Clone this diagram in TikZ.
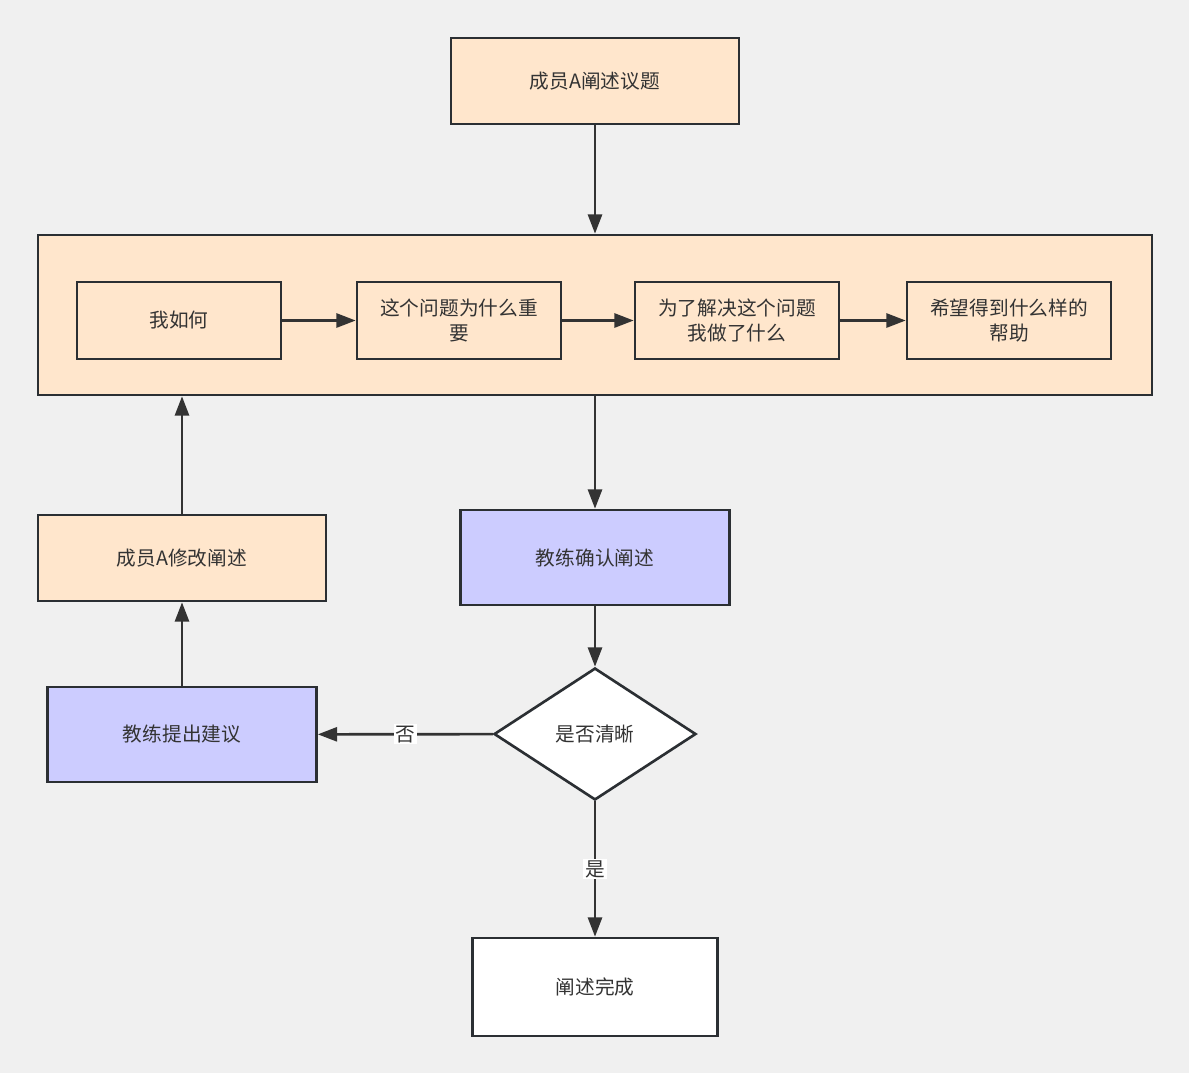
\documentclass[tikz,border=0pt]{standalone}
\usepackage{fontspec}
\setmainfont{Noto Sans CJK SC}
\usepackage{tikz}
\usetikzlibrary{arrows.meta, positioning, shapes.geometric, calc}
\definecolor{bgcol}{HTML}{F0F0F0}
\definecolor{peach}{HTML}{FFE6CC}
\definecolor{lav}{HTML}{CCCCFF}
\definecolor{edge}{HTML}{2B2F33}
\definecolor{txt}{HTML}{333333}

\tikzset{
  box/.style={rectangle, draw=edge, line width=1.5pt, fill=peach, align=center,
    font=\fontsize{11.2}{14.2}\selectfont, text=txt, inner sep=0pt},
  coach/.style={box, fill=lav},
  decision/.style={diamond, draw=edge, line width=1.5pt, fill=white,
    font=\fontsize{11.2}{14.2}\selectfont, text=txt, inner sep=0pt, aspect=1.53},
  arr/.style={draw=txt, line width=1.5pt, -{Triangle[length=11pt, width=8pt]}},
  lbl/.style={fill=white, inner sep=1pt, font=\fontsize{11.2}{13}\selectfont, text=txt}
}

\begin{document}
\begin{tikzpicture}[x=0.02cm, y=-0.02cm]
  \fill[bgcol] (0,0) rectangle (1189,1073);
  \useasboundingbox (0,0) rectangle (1189,1073);

  % Top issue
  \node[box, minimum width=5.76cm, minimum height=1.72cm] (issue) at (595,81) {成员A阐述议题};

  % Container with four steps
  \node[box, minimum width=22.28cm, minimum height=3.2cm] (frame) at (595,315) {};
  \node[box, minimum width=4.08cm, minimum height=1.54cm] (how) at (179,320.5) {我如何};
  \node[box, minimum width=4.08cm, minimum height=1.54cm] (why) at (459,320.5) {这个问题为什么重\\要};
  \node[box, minimum width=4.08cm, minimum height=1.54cm] (did) at (737,320.5) {为了解决这个问题\\我做了什么};
  \node[box, minimum width=4.08cm, minimum height=1.54cm] (help) at (1009,320.5) {希望得到什么样的\\帮助};

  % Coach loop
  \node[box, minimum width=5.76cm, minimum height=1.72cm] (revise) at (182,558) {成员A修改阐述};
  \node[coach, minimum width=5.38cm, minimum height=1.9cm] (confirm) at (595,557.5) {教练确认阐述};
  \node[decision, minimum width=4.04cm, minimum height=2.64cm] (clear) at (595,734) {是否清晰};
  \node[coach, minimum width=5.38cm, minimum height=1.9cm] (advice) at (182,734.5) {教练提出建议};
  \node[box, fill=white, minimum width=4.9cm, minimum height=1.96cm] (done) at (595,987) {阐述完成};

  % Edges
  \draw[arr] (issue) -- (frame);
  \draw[arr] (how) -- (why);
  \draw[arr] (why) -- (did);
  \draw[arr] (did) -- (help);
  \draw[arr] (frame.south -| confirm) -- (confirm);
  \draw[arr] (confirm) -- (clear);
  \draw[arr] (clear) -- (advice) node[lbl, pos=0.5] {否};
  \draw[arr] (clear) -- (done) node[lbl, pos=0.5] {是};
  \draw[arr] (advice.north) -- (revise.south);
  \draw[arr] (revise.north) -- (revise |- frame.south);
\end{tikzpicture}
\end{document}
